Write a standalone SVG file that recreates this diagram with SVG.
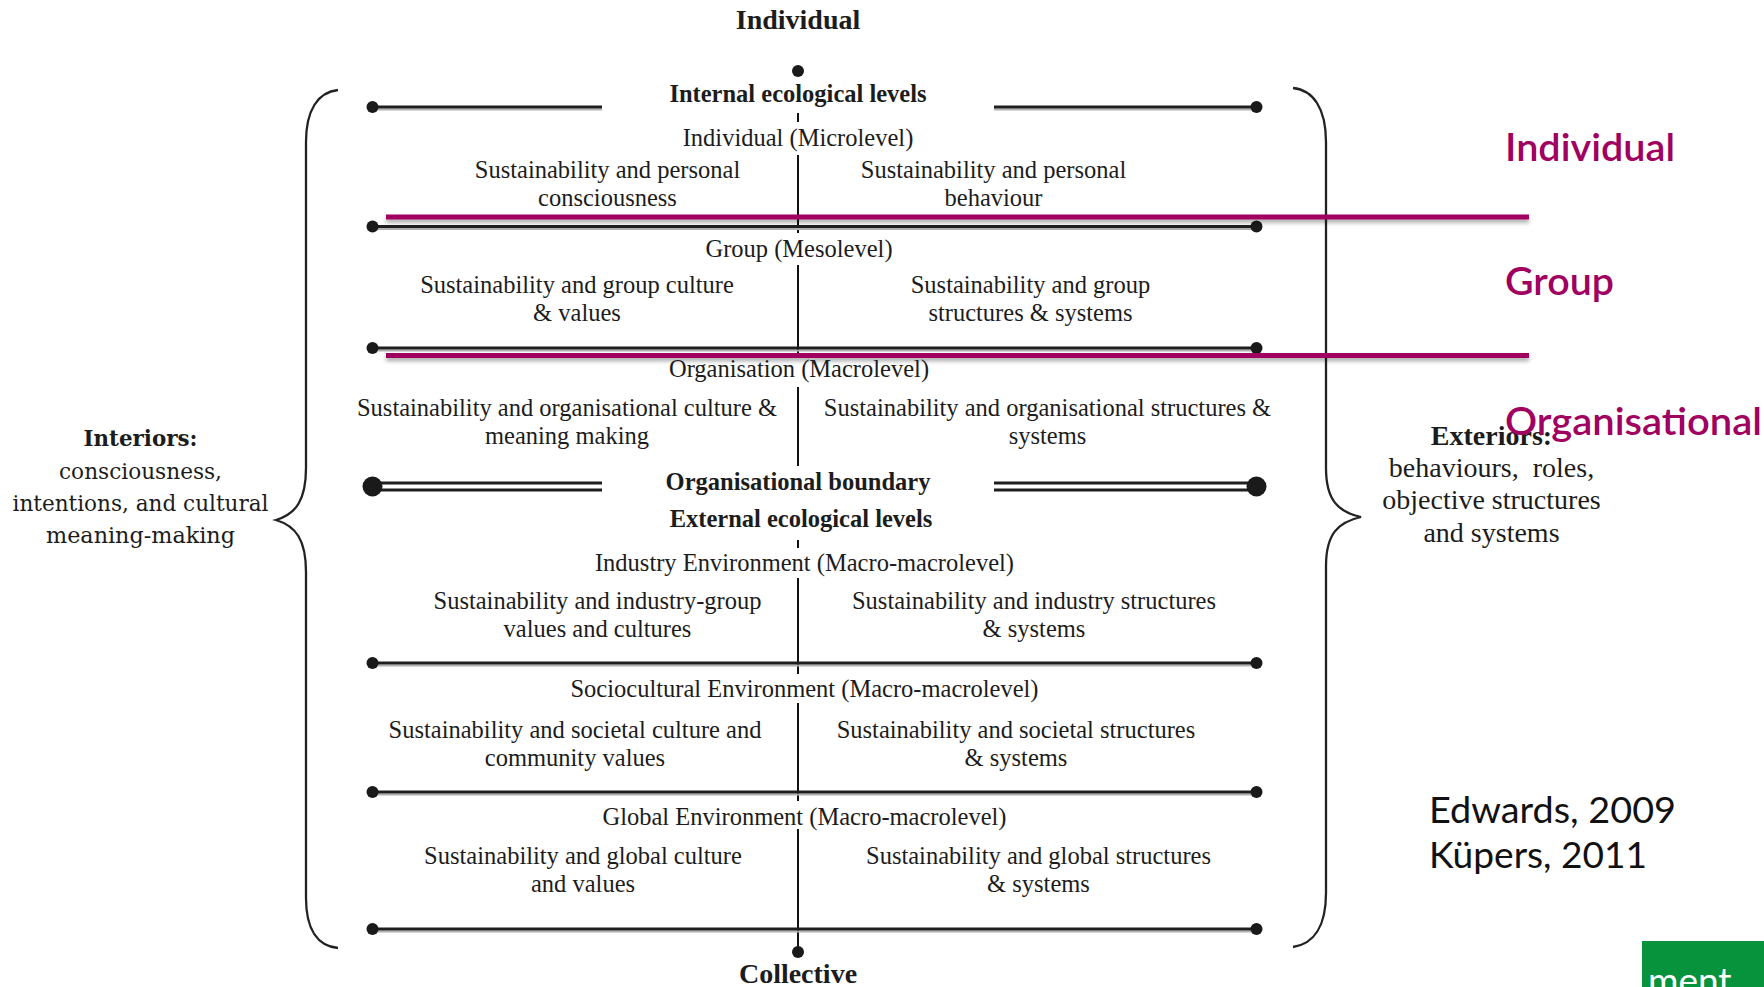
<svg xmlns="http://www.w3.org/2000/svg" width="1764" height="987" viewBox="0 0 1764 987">
<style>
.t{font-family:"Liberation Serif","Times New Roman",serif;font-size:24.5px;fill:#1c1c1c;text-anchor:middle}
.b{font-weight:bold}
.big{font-size:28px}
.side{font-family:"DejaVu Serif","Liberation Serif",serif;font-size:21.5px;fill:#1c1c1c;text-anchor:middle}
.ext{font-family:"Liberation Serif","Times New Roman",serif;font-size:28px;fill:#1c1c1c;text-anchor:middle}
.mag{font-family:Lato,"Open Sans",sans-serif;font-weight:600;font-size:38px;fill:#a00060}
.cite{font-family:Lato,"Open Sans",sans-serif;font-size:36px;fill:#111}
.hl{stroke:#1e1e1e;stroke-width:3;fill:none}
.hs{stroke:#b0b0b0;stroke-width:2;fill:none}
.vl{stroke:#111;stroke-width:2;fill:none}
.dot{fill:#1a1a1a}
.brace{stroke:#222;stroke-width:2.3;fill:none}
</style>
<defs>
<filter id="sh" filterUnits="userSpaceOnUse" x="0" y="0" width="1764" height="987">
<feDropShadow dx="0" dy="3" stdDeviation="2" flood-color="#000" flood-opacity="0.35"/>
</filter>
</defs>
<rect width="1764" height="987" fill="#fff"/>

<g id="connectors">
<line class="vl" x1="798" y1="113" x2="798" y2="122"/>
<line class="vl" x1="798" y1="155" x2="798" y2="233"/>
<line class="vl" x1="798" y1="265" x2="798" y2="353"/>
<line class="vl" x1="798" y1="387" x2="798" y2="466"/>
<line class="vl" x1="798" y1="540" x2="798" y2="548"/>
<line class="vl" x1="798" y1="578" x2="798" y2="674"/>
<line class="vl" x1="798" y1="703" x2="798" y2="801"/>
<line class="vl" x1="798" y1="829" x2="798" y2="951"/>
<circle class="dot" cx="798" cy="71" r="6"/>
<circle class="dot" cx="798" cy="952" r="6"/>

<line class="hs" x1="372" y1="109.5" x2="602" y2="109.5"/>
<line class="hl" x1="372" y1="107" x2="602" y2="107"/>
<line class="hs" x1="994" y1="109.5" x2="1257" y2="109.5"/>
<line class="hl" x1="994" y1="107" x2="1257" y2="107"/>
<circle class="dot" cx="372.5" cy="107" r="6"/>
<circle class="dot" cx="1256.5" cy="107" r="6"/>

<line class="hs" x1="372" y1="229" x2="1257" y2="229"/>
<line class="hl" x1="372" y1="226.5" x2="1257" y2="226.5"/>
<circle class="dot" cx="372.5" cy="226.5" r="6"/>
<circle class="dot" cx="1256.5" cy="226.5" r="6"/>

<line class="hs" x1="372" y1="350.5" x2="1257" y2="350.5"/>
<line class="hl" x1="372" y1="348" x2="1257" y2="348"/>
<circle class="dot" cx="372.5" cy="348" r="6"/>
<circle class="dot" cx="1256.5" cy="348" r="6"/>

<line class="hl" x1="372" y1="483" x2="602" y2="483"/>
<line class="hl" x1="372" y1="490" x2="602" y2="490"/>
<line class="hl" x1="994" y1="483" x2="1257" y2="483"/>
<line class="hl" x1="994" y1="490" x2="1257" y2="490"/>
<circle class="dot" cx="372.5" cy="486.5" r="10"/>
<circle class="dot" cx="1256.5" cy="486.5" r="10"/>

<line class="hs" x1="372" y1="665.5" x2="1257" y2="665.5"/>
<line class="hl" x1="372" y1="663" x2="1257" y2="663"/>
<circle class="dot" cx="372.5" cy="663" r="6"/>
<circle class="dot" cx="1256.5" cy="663" r="6"/>

<line class="hs" x1="372" y1="794.5" x2="1257" y2="794.5"/>
<line class="hl" x1="372" y1="792" x2="1257" y2="792"/>
<circle class="dot" cx="372.5" cy="792" r="6"/>
<circle class="dot" cx="1256.5" cy="792" r="6"/>

<line class="hs" x1="372" y1="931.5" x2="1257" y2="931.5"/>
<line class="hl" x1="372" y1="929" x2="1257" y2="929"/>
<circle class="dot" cx="372.5" cy="929" r="6"/>
<circle class="dot" cx="1256.5" cy="929" r="6"/>

<path class="brace" d="M338 90 C318 92 306 110 306 142 L306 468 C306 500 296 514 276 520 C296 526 306 540 306 572 L306 898 C306 930 318 946 338 948"/>
<path class="brace" d="M1293 88 C1313 90 1326 108 1326 142 L1326 468 C1326 500 1338 512 1361 517 C1338 522 1326 534 1326 566 L1326 893 C1326 926 1314 944 1293 947"/>

<rect x="386" y="214.5" width="1143" height="5" fill="#a00060" filter="url(#sh)"/>
<rect x="386" y="353" width="1143" height="5" fill="#a00060" filter="url(#sh)"/>
</g>

<g id="axis-labels">
<text class="t b big" x="798" y="29">Individual</text>
<text class="t b big" x="798" y="983">Collective</text>
</g>

<g id="internal-header">
<text class="t b" x="798" y="102">Internal ecological levels</text>
</g>

<g id="individual-level">
<text class="t" x="798" y="145.5">Individual (Microlevel)</text>
<text class="t" x="607.5" y="178">Sustainability and personal</text>
<text class="t" x="607.5" y="206">consciousness</text>
<text class="t" x="993.5" y="178">Sustainability and personal</text>
<text class="t" x="993.5" y="206">behaviour</text>
</g>

<g id="group-level">
<text class="t" x="799" y="256.5">Group (Mesolevel)</text>
<text class="t" x="577" y="293">Sustainability and group culture</text>
<text class="t" x="577" y="321">&amp; values</text>
<text class="t" x="1030.5" y="293">Sustainability and group</text>
<text class="t" x="1030.5" y="321">structures &amp; systems</text>
</g>

<g id="organisation-level">
<text class="t" x="799" y="377">Organisation (Macrolevel)</text>
<text class="t" x="567" y="415.5">Sustainability and organisational culture &amp;</text>
<text class="t" x="567" y="444">meaning making</text>
<text class="t" x="1047.5" y="415.5">Sustainability and organisational structures &amp;</text>
<text class="t" x="1047.5" y="444">systems</text>
</g>

<g id="organisational-boundary">
<text class="t b" x="798" y="489.5">Organisational boundary</text>
<text class="t b" x="801" y="526.5">External ecological levels</text>
</g>

<g id="industry-level">
<text class="t" x="804.5" y="570.5">Industry Environment (Macro-macrolevel)</text>
<text class="t" x="597.5" y="609">Sustainability and industry-group</text>
<text class="t" x="597.5" y="637">values and cultures</text>
<text class="t" x="1034" y="609">Sustainability and industry structures</text>
<text class="t" x="1034" y="637">&amp; systems</text>
</g>

<g id="sociocultural-level">
<text class="t" x="804.5" y="697">Sociocultural Environment (Macro-macrolevel)</text>
<text class="t" x="575" y="737.5">Sustainability and societal culture and</text>
<text class="t" x="575" y="765.5">community values</text>
<text class="t" x="1016" y="737.5">Sustainability and societal structures</text>
<text class="t" x="1016" y="765.5">&amp; systems</text>
</g>

<g id="global-level">
<text class="t" x="804.5" y="825">Global Environment (Macro-macrolevel)</text>
<text class="t" x="583" y="863.5">Sustainability and global culture</text>
<text class="t" x="583" y="891.5">and values</text>
<text class="t" x="1038.5" y="863.5">Sustainability and global structures</text>
<text class="t" x="1038.5" y="891.5">&amp; systems</text>
</g>

<g id="interiors">
<text class="side" x="140.5" y="446" font-weight="bold" textLength="114" lengthAdjust="spacingAndGlyphs">Interiors:</text>
<text class="side" x="140.5" y="479" textLength="163" lengthAdjust="spacingAndGlyphs">consciousness,</text>
<text class="side" x="140.5" y="511" textLength="256" lengthAdjust="spacingAndGlyphs">intentions, and cultural</text>
<text class="side" x="140.5" y="543" textLength="189" lengthAdjust="spacingAndGlyphs">meaning-making</text>
</g>

<g id="exteriors">
<text class="ext" x="1491.5" y="445" font-weight="bold">Exteriors:</text>
<text class="ext" x="1491.5" y="476.5" xml:space="preserve">behaviours,  roles,</text>
<text class="ext" x="1491.5" y="508.5">objective structures</text>
<text class="ext" x="1491.5" y="541.5">and systems</text>
</g>

<g id="level-labels">
<text class="mag" x="1505" y="161" textLength="170" lengthAdjust="spacingAndGlyphs">Individual</text>
<text class="mag" x="1505" y="295" textLength="109" lengthAdjust="spacingAndGlyphs">Group</text>
<text class="mag" x="1505" y="435" textLength="257" lengthAdjust="spacingAndGlyphs">Organisational</text>
</g>

<g id="citation">
<text class="cite" x="1429" y="823" textLength="247" lengthAdjust="spacingAndGlyphs">Edwards, 2009</text>
<text class="cite" x="1429" y="868" textLength="218" lengthAdjust="spacingAndGlyphs">Küpers, 2011</text>
</g>

<g id="green-tab">
<rect x="1642" y="941" width="122" height="46" fill="#07923c"/>
<text x="1648" y="994" font-family="Lato,'Open Sans',sans-serif" font-size="37" fill="#fff">ment</text>
</g>
</svg>
